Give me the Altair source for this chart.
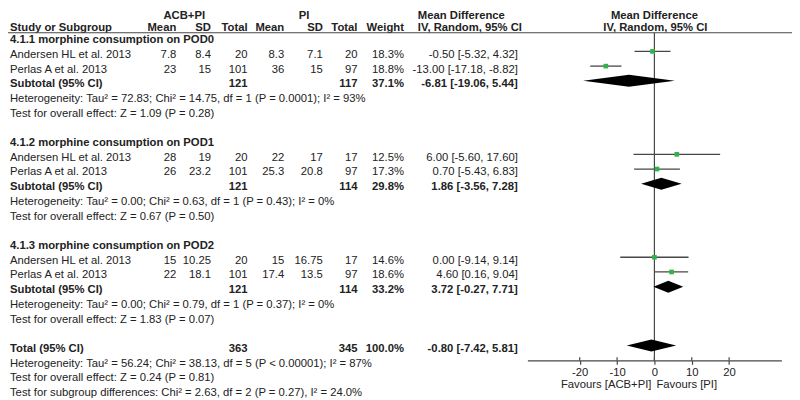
import altair as alt
import pandas as pd

# ---------------- data ----------------
study_names = ["Andersen HL et al. 2013", "Perlas A et al. 2013"] * 3
acb_mean = [7.8, 23, 28, 26, 15, 22]
acb_sd = [8.4, 15, 19, 23.2, 10.25, 18.1]
acb_n = [20, 101, 20, 101, 20, 101]
pi_mean = [8.3, 36, 22, 25.3, 15, 17.4]
pi_sd = [7.1, 15, 17, 20.8, 16.75, 13.5]
pi_n = [20, 97, 17, 97, 17, 97]
weight = [18.3, 18.8, 12.5, 17.3, 14.6, 18.6]
md = [-0.50, -13.00, 6.00, 0.70, 0.00, 4.60]
md_lo = [-5.32, -17.18, -5.60, -5.43, -9.14, 0.16]
md_hi = [4.32, -8.82, 17.60, 6.83, 9.14, 9.04]

subgroups = ["4.1.1 morphine consumption on POD0",
             "4.1.2 morphine consumption on POD1",
             "4.1.3 morphine consumption on POD2"]
sub_acb_n = [121, 121, 121]
sub_pi_n = [117, 114, 114]
sub_weight = [37.1, 29.8, 33.2]
sub_md = [-6.81, 1.86, 3.72]
sub_lo = [-19.06, -3.56, -0.27]
sub_hi = [5.44, 7.28, 7.71]
sub_het = ["Heterogeneity: Tau² = 72.83; Chi² = 14.75, df = 1 (P = 0.0001); I² = 93%",
           "Heterogeneity: Tau² = 0.00; Chi² = 0.63, df = 1 (P = 0.43); I² = 0%",
           "Heterogeneity: Tau² = 0.00; Chi² = 0.79, df = 1 (P = 0.37); I² = 0%"]
sub_effect = ["Test for overall effect: Z = 1.09 (P = 0.28)",
              "Test for overall effect: Z = 0.67 (P = 0.50)",
              "Test for overall effect: Z = 1.83 (P = 0.07)"]

total_acb_n = 363
total_pi_n = 345
total_weight = 100.0
total_md = -0.80
total_lo = -7.42
total_hi = 5.81
total_notes = ["Heterogeneity: Tau² = 56.24; Chi² = 38.13, df = 5 (P < 0.00001); I² = 87%",
               "Test for overall effect: Z = 0.24 (P = 0.81)",
               "Test for subgroup differences: Chi² = 2.63, df = 2 (P = 0.27), I² = 24.0%"]

axis_ticks = [-20, -10, 0, 10, 20]
favours = ["Favours [ACB+PI]", "Favours [PI]"]

# ---------------- layout ----------------
FONT = "Liberation Sans"
FS = 11.4
TXT = "#222222"
LINE = "#474747"
GREEN = "#2fb34a"
W, H = 792, 392

def px(page_x):
    return page_x - 8

COL = {
    "name": px(10), "am": px(178), "asd": px(213), "an": px(250),
    "pm": px(287), "psd": px(326), "pn": px(361), "w": px(408), "ci": px(523),
}

def fmt_ci(m, l, h):
    return f"{m:.2f} [{l:.2f}, {h:.2f}]"

cells = []

def add(row, x, text, align="right", bold=False):
    cells.append(dict(row=row, x=x, label=str(text), al=align, bold=bold))

HDR0, HDR1 = 0.33, 1.158
add(HDR0, px(186), "ACB+PI", "center", True)
add(HDR0, px(307), "PI", "center", True)
add(HDR0, px(422), "Mean Difference", "left", True)
add(HDR0, px(661), "Mean Difference", "center", True)
add(HDR1, COL["name"], "Study or Subgroup", "left", True)
for key, lab in [("am", "Mean"), ("asd", "SD"), ("an", "Total"), ("pm", "Mean"),
                 ("psd", "SD"), ("pn", "Total"), ("w", "Weight")]:
    add(HDR1, COL[key], lab, "right", True)
add(HDR1, px(422), "IV, Random, 95% CI", "left", True)
add(HDR1, px(662), "IV, Random, 95% CI", "center", True)

study_rows = []
sub_rows = []
for g in range(3):
    base = 2 + 7 * g
    add(base, COL["name"], subgroups[g], "left", True)
    for k in range(2):
        i = 2 * g + k
        r = base + 1 + k
        study_rows.append(r)
        add(r, COL["name"], study_names[i], "left")
        add(r, COL["am"], f"{acb_mean[i]:g}")
        add(r, COL["asd"], f"{acb_sd[i]:g}")
        add(r, COL["an"], acb_n[i])
        add(r, COL["pm"], f"{pi_mean[i]:g}")
        add(r, COL["psd"], f"{pi_sd[i]:g}")
        add(r, COL["pn"], pi_n[i])
        add(r, COL["w"], f"{weight[i]:.1f}%")
        add(r, COL["ci"], fmt_ci(md[i], md_lo[i], md_hi[i]))
    r = base + 3
    sub_rows.append(r)
    add(r, COL["name"], "Subtotal (95% CI)", "left", True)
    add(r, COL["an"], sub_acb_n[g], "right", True)
    add(r, COL["pn"], sub_pi_n[g], "right", True)
    add(r, COL["w"], f"{sub_weight[g]:.1f}%", "right", True)
    add(r, COL["ci"], fmt_ci(sub_md[g], sub_lo[g], sub_hi[g]), "right", True)
    add(base + 4, COL["name"], sub_het[g], "left")
    add(base + 5, COL["name"], sub_effect[g], "left")

total_row = 23
add(total_row, COL["name"], "Total (95% CI)", "left", True)
add(total_row, COL["an"], total_acb_n, "right", True)
add(total_row, COL["pn"], total_pi_n, "right", True)
add(total_row, COL["w"], f"{total_weight:.1f}%", "right", True)
add(total_row, COL["ci"], fmt_ci(total_md, total_lo, total_hi), "right", True)
for j, t in enumerate(total_notes):
    add(total_row + 1 + j, COL["name"], t, "left")

cells_df = pd.DataFrame(cells)

def yscale():
    return alt.Scale(domain=[-0.0533, 26.337], reverse=True, zero=False, nice=False)

def xscale():
    return alt.Scale(domain=[-34, 34], range=[px(532.7), px(789.3)], zero=False, nice=False)

def pxscale():
    return alt.Scale(domain=[0, W], range=[0, W], zero=False, nice=False)

MARK_OFF = -0.236
AXIS_ROW = 23.78
LINE_ROW = 1.497
FAV_ROW = 25.46

layers = []
for align in ["left", "right", "center"]:
    for bold in [False, True]:
        d = cells_df[(cells_df["al"] == align) & (cells_df["bold"] == bold)]
        if len(d) == 0:
            continue
        layers.append(
            alt.Chart(d).mark_text(align=align, baseline="middle", font=FONT, fontSize=FS,
                                   fontWeight="bold" if bold else "normal", color=TXT)
            .encode(x=alt.X("x:Q", scale=pxscale(), axis=None),
                    y=alt.Y("row:Q", scale=yscale(), axis=None),
                    text="label:N")
        )

# header rule
hdr = pd.DataFrame({"row": [LINE_ROW]})
layers.append(alt.Chart(hdr).mark_rule(color=LINE, strokeWidth=1.2).encode(
    x=alt.value(0), x2=alt.value(W), y=alt.Y("row:Q", scale=yscale(), axis=None)))

# zero line + axis
zero = pd.DataFrame({"x": [0], "y1": [LINE_ROW], "y2": [AXIS_ROW]})
layers.append(alt.Chart(zero).mark_rule(color=LINE, strokeWidth=1.2).encode(
    x=alt.X("x:Q", scale=xscale(),
            axis=alt.Axis(values=axis_ticks, offset=-38, labelExpr="'' + datum.value",
                          domainColor=LINE, tickColor=LINE, tickSize=4, labelPadding=2,
                          labelFont=FONT, labelFontSize=FS, labelColor=TXT, grid=False,
                          title=None, domainWidth=1.2, tickWidth=1.2)),
    y=alt.Y("y1:Q", scale=yscale(), axis=None), y2="y2:Q"))

# upward tick halves
tk = pd.DataFrame({"x": axis_ticks, "y1": [AXIS_ROW - 0.22] * len(axis_ticks),
                   "y2": [AXIS_ROW] * len(axis_ticks)})
layers.append(alt.Chart(tk).mark_rule(color=LINE, strokeWidth=1.2).encode(
    x=alt.X("x:Q", scale=xscale(), axis=None), y=alt.Y("y1:Q", scale=yscale(), axis=None), y2="y2:Q"))

# study CI lines and squares
st = pd.DataFrame({"md": md, "lo": md_lo, "hi": md_hi,
                   "row": [r + MARK_OFF for r in study_rows]})
layers.append(alt.Chart(st).mark_rule(color=LINE, strokeWidth=1.3).encode(
    x=alt.X("lo:Q", scale=xscale(), axis=None), x2="hi:Q",
    y=alt.Y("row:Q", scale=yscale(), axis=None)))
layers.append(alt.Chart(st).mark_square(color=GREEN, size=22, opacity=1).encode(
    x=alt.X("md:Q", scale=xscale(), axis=None), y=alt.Y("row:Q", scale=yscale(), axis=None)))

# diamonds
dia = []
all_d = list(zip(sub_md, sub_lo, sub_hi, sub_rows)) + [(total_md, total_lo, total_hi, total_row)]
HALF = 0.41
for k, (m, l, h, r) in enumerate(all_d):
    yc = r + MARK_OFF
    dia.append(dict(id=k, y=yc - HALF, x=m, x2=m))
    dia.append(dict(id=k, y=yc, x=l, x2=h))
    dia.append(dict(id=k, y=yc + HALF, x=m, x2=m))
dia_df = pd.DataFrame(dia)
layers.append(alt.Chart(dia_df).mark_area(color="#000000", orient="horizontal", opacity=1).encode(
    y=alt.Y("y:Q", scale=yscale(), axis=None),
    x=alt.X("x:Q", scale=xscale(), axis=None, stack=None), x2="x2:Q",
    detail="id:N"))

# favours labels
fav_l = pd.DataFrame({"x": [0], "row": [FAV_ROW], "t": [favours[0]]})
fav_r = pd.DataFrame({"x": [0], "row": [FAV_ROW], "t": [favours[1]]})
layers.append(alt.Chart(fav_l).mark_text(align="right", baseline="middle", dx=-3, font=FONT,
                                         fontSize=FS, color=TXT).encode(
    x=alt.X("x:Q", scale=xscale(), axis=None), y=alt.Y("row:Q", scale=yscale(), axis=None), text="t:N"))
layers.append(alt.Chart(fav_r).mark_text(align="left", baseline="middle", dx=2, font=FONT,
                                         fontSize=FS, color=TXT).encode(
    x=alt.X("x:Q", scale=xscale(), axis=None), y=alt.Y("row:Q", scale=yscale(), axis=None), text="t:N"))

chart = alt.layer(*layers).resolve_scale(x="independent").resolve_axis(x="independent").properties(
    width=W, height=H, autosize=alt.AutoSizeParams(type="none"), padding=0,
    background="white",
).configure_view(stroke=None)

chart.save("out.html", embed_options={"renderer": "svg", "actions": False})
